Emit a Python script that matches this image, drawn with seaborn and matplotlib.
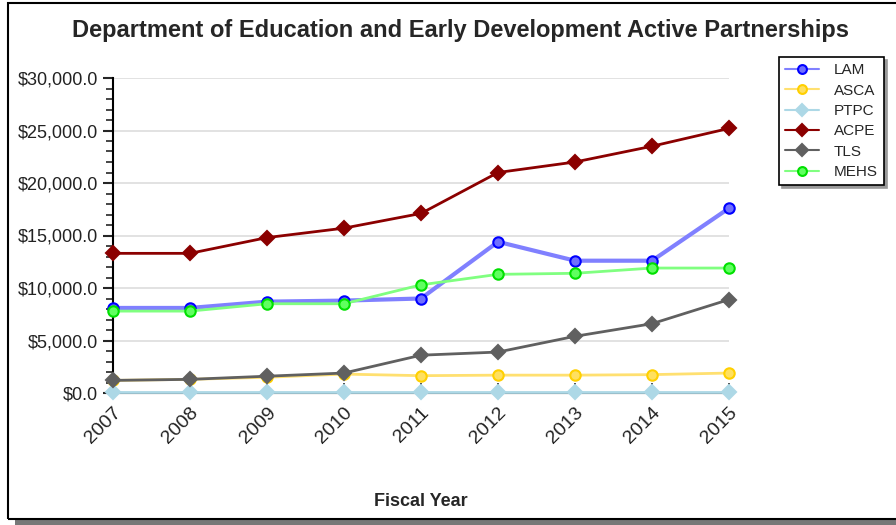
import numpy as np
import pandas as pd
import matplotlib
matplotlib.use("Agg")
import matplotlib.pyplot as plt
import matplotlib.ticker as mticker
from matplotlib.patches import Rectangle
import seaborn as sns

# Data
years = [2007, 2008, 2009, 2010, 2011, 2012, 2013, 2014, 2015]
lam = [8100, 8100, 8700, 8800, 9000, 14400, 12600, 12600, 17600]
asca = [1200, 1300, 1500, 1800, 1650, 1700, 1700, 1750, 1900]
ptpc = [50, 50, 50, 50, 50, 50, 50, 50, 50]
acpe = [13300, 13300, 14800, 15700, 17100, 21000, 22000, 23500, 25200]
tls = [1200, 1300, 1600, 1900, 3600, 3900, 5400, 6600, 8900]
mehs = [7800, 7800, 8500, 8500, 10300, 11300, 11400, 11900, 11900]

series = ["LAM", "ASCA", "PTPC", "ACPE", "TLS", "MEHS"]
values = [lam, asca, ptpc, acpe, tls, mehs]

# line colour, marker edge, marker face, marker, line width
styles = {
    "LAM": ("#8080ff", "#0000ff", "#6f6fff", "o", 3.0),
    "ASCA": ("#ffe070", "#ffd000", "#ffe060", "o", 2.0),
    "PTPC": ("#add8e6", "#add8e6", "#add8e6", "D", 2.0),
    "ACPE": ("#8b0000", "#8b0000", "#8b0000", "D", 2.0),
    "TLS": ("#606060", "#606060", "#606060", "D", 2.0),
    "MEHS": ("#80ff80", "#00e000", "#60ff60", "o", 2.0),
}

df = pd.DataFrame({"year": years * len(series),
                   "value": sum(values, []),
                   "series": np.repeat(series, len(years))})

sns.set_style("white")
plt.rcParams["font.family"] = ["Liberation Sans", "DejaVu Sans"]

fig = plt.figure(figsize=(8.96, 5.25), dpi=100)
ax = fig.add_axes([113 / 896, 1 - 393 / 525, 616 / 896, 315 / 525])

for name in series:
    lc, mec, mfc, mk, lw = styles[name]
    sub = df[df["series"] == name]
    ms = 7.5 if mk == "o" else 7
    sns.lineplot(data=sub, x="year", y="value", ax=ax, color=lc, lw=lw,
                 marker=mk, markersize=ms, markeredgecolor=mec,
                 markerfacecolor=mfc, markeredgewidth=1.5,
                 label=name, clip_on=False, zorder=3)

ax.set_xlim(2007, 2015)
ax.set_ylim(0, 30000)
ax.set_xticks(years)
ax.set_xticklabels([str(y) for y in years], rotation=45, ha="right",
                   rotation_mode="anchor", fontsize=14, color="#222222")
ax.yaxis.set_major_locator(mticker.MultipleLocator(5000))
ax.yaxis.set_minor_locator(mticker.MultipleLocator(1000))
ax.yaxis.set_major_formatter(mticker.FuncFormatter(lambda v, p: f"${v:,.1f}"))
ax.tick_params(axis="y", which="major", direction="out", length=7, width=1.5,
               labelsize=13, labelcolor="#222222", left=True, pad=4)
ax.tick_params(axis="y", which="minor", direction="out", length=5, width=1.2,
               left=True)
ax.tick_params(axis="x", direction="in", length=7, width=1.2, bottom=True,
               pad=8)
ax.grid(axis="y", color="#dddddd", lw=1.2)
ax.set_axisbelow(True)
for s in ["top", "right"]:
    ax.spines[s].set_visible(False)
for s in ["left", "bottom"]:
    ax.spines[s].set_color("black")
    ax.spines[s].set_linewidth(1.5)

ax.set_ylabel("")
ax.set_xlabel("Fiscal Year", fontsize=13, fontweight="bold")
ax.xaxis.set_label_coords(0.5, (393 - 493) / 315)

fig.text(460 / 896, 1 - 31 / 525,
         "Department of Education and Early Development Active Partnerships",
         ha="center", va="center", fontsize=17, fontweight="bold")

leg = ax.legend(loc="upper left", bbox_to_anchor=(779 / 896, 1 - 57 / 525),
                bbox_transform=fig.transFigure, frameon=True, fancybox=False,
                shadow={"color": "#999999", "alpha": 1}, fontsize=11,
                handlelength=2.2, labelspacing=0.42, borderpad=0.4,
                handletextpad=1.0, borderaxespad=0, markerscale=0.85)
leg.get_frame().set_edgecolor("black")
leg.get_frame().set_linewidth(1.2)
for line in leg.get_lines():
    line.set_linewidth(1.5)

# outer frame with shadow
fig.patches.append(Rectangle((15 / 896, 0), 1, 5 / 525, transform=fig.transFigure,
                             facecolor="#777777", edgecolor="none", zorder=0))
fig.patches.append(Rectangle((8 / 896, 6 / 525), 1, 1 - 9 / 525,
                             transform=fig.transFigure, facecolor="none",
                             edgecolor="black", lw=1.5, zorder=1))

fig.savefig("out.png", dpi=100)
